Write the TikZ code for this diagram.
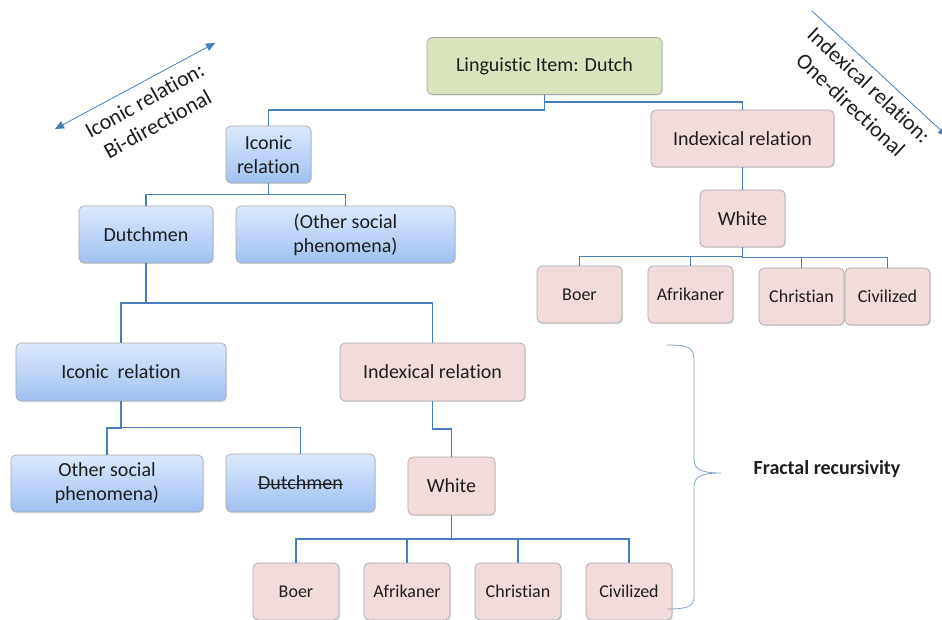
\documentclass[tikz,border=0pt]{standalone}
\usepackage{fontspec}
\setmainfont{Carlito}[Ligatures={NoCommon}]
\usetikzlibrary{calc,shadows,arrows.meta}

% struck-through word: a thin rule laid over the word at mid x-height
\newcommand{\strikeword}[1]{\leavevmode\setbox0\hbox{#1}%
  \rlap{\rule[0.24em]{\wd0}{0.055em}}\box0}

\definecolor{linkblue}{HTML}{4A7EBB}
\definecolor{bracecol}{HTML}{7F9FCF}
\definecolor{boxline}{HTML}{A8A8A8}
\definecolor{pinkfill}{HTML}{F2DCDB}
\definecolor{greenfill}{HTML}{D7E4BD}
\definecolor{bluetop}{HTML}{DCE8FC}
\definecolor{bluebot}{HTML}{A0C1F3}
\definecolor{ink}{HTML}{1E1E1E}

\tikzset{
  box/.style={rectangle, rounded corners=5pt, draw=boxline, line width=0.7pt,
    align=center, inner sep=2pt, text=ink, font=\fontsize{20}{24}\selectfont,
    drop shadow={shadow xshift=1pt, shadow yshift=-1.2pt, opacity=0.22}},
  pinkbox/.style={box, fill=pinkfill},
  greenbox/.style={box, fill=greenfill},
  bluebox/.style={box, top color=bluetop, bottom color=bluebot},
  leaf/.style={pinkbox, font=\fontsize{18}{22}\selectfont},
  link/.style={draw=linkblue, line width=1.6pt},
  elbow/.style={to path={(\tikztostart.south)
      |- ($(\tikztostart.south)!0.5!(\tikztotarget.north)$)
      -| (\tikztotarget.north)}},
  relarrow/.style={draw=linkblue, line width=0.8pt},
  tipA/.tip={Triangle[length=9pt,width=8pt]},
  rellabel/.style={text=ink, align=center, font=\fontsize{22}{27}\selectfont},
  brace/.style={draw=bracecol, line width=0.8pt},
}

\begin{document}
\begin{tikzpicture}[x=1pt,y=-1pt]
\useasboundingbox (0,0) rectangle (942,619);

% root
\node[greenbox, minimum width=235pt, minimum height=57pt] (ling) at (544.5,66) {Linguistic Item: Dutch};

% right branch: indexical relation
\node[pinkbox, minimum width=183pt, minimum height=57pt] (idxA) at (742.5,138.5) {Indexical relation};
\node[pinkbox, minimum width=85pt, minimum height=57pt] (whiteA) at (742.5,218.5) {White};
\node[leaf, minimum width=85pt, minimum height=57pt] (boerA) at (579.5,294.5) {Boer};
\node[leaf, minimum width=85pt, minimum height=57pt] (afrA) at (690.5,294.5) {Afrikaner};
\node[leaf, minimum width=85pt, minimum height=57pt] (chrA) at (801.5,296.5) {Christian};
\node[leaf, minimum width=85pt, minimum height=57pt] (civA) at (887.5,296.5) {Civilized};

% left branch: iconic relation
\node[bluebox, minimum width=85pt, minimum height=57pt] (iconA) at (268.5,154.5) {Iconic\\relation};
\node[bluebox, minimum width=134pt, minimum height=57pt] (dutchA) at (146,234.5) {Dutchmen};
\node[bluebox, minimum width=219pt, minimum height=57pt] (otherA) at (345.5,234.5) {(Other social\\phenomena)};

% second level below Dutchmen
\node[bluebox, minimum width=210pt, minimum height=58pt] (iconB) at (121,372) {Iconic\ \ relation};
\node[pinkbox, minimum width=185pt, minimum height=58pt] (idxB) at (432.5,372) {Indexical relation};
\node[bluebox, minimum width=192pt, minimum height=57pt] (otherB) at (107,483.5) {Other social\\phenomena)};
\node[bluebox, minimum width=149pt, minimum height=58pt] (dutchB) at (300.5,483) {\strikeword{Dutchmen}};
\node[pinkbox, minimum width=87pt, minimum height=58pt] (whiteB) at (451.5,486) {White};
\node[leaf, minimum width=86pt, minimum height=57pt] (boerB) at (296,591.5) {Boer};
\node[leaf, minimum width=86pt, minimum height=57pt] (afrB) at (407,591.5) {Afrikaner};
\node[leaf, minimum width=86pt, minimum height=57pt] (chrB) at (518,591.5) {Christian};
\node[leaf, minimum width=86pt, minimum height=57pt] (civB) at (629,591.5) {Civilized};

% tree connectors
\foreach \p/\c in {ling/iconA, ling/idxA, idxA/whiteA,
    whiteA/boerA, whiteA/afrA, whiteA/chrA, whiteA/civA,
    iconA/dutchA, iconA/otherA, dutchA/iconB, dutchA/idxB,
    iconB/otherB, iconB/dutchB, idxB/whiteB,
    whiteB/boerB, whiteB/afrB, whiteB/chrB, whiteB/civB}
  \draw[link] (\p) to[elbow] (\c);

% relation arrows with their labels
\coordinate (icoS) at (55,129);
\coordinate (icoE) at (215,43);
\draw[relarrow, tipA-tipA] (icoS) -- (icoE);
\node[rellabel, rotate=29] (icoLbl) at (151,112) {Iconic relation:\\Bi-directional};

\coordinate (idxS) at (812,11);
\coordinate (idxE) at (947,136);
\draw[relarrow, -tipA] (idxS) -- (idxE);
\node[rellabel, rotate=-43] (idxLbl) at (860,95) {Indexical relation:\\One-directional};

% brace around the lower tree
\draw[brace] (667,345) .. controls (688,345) and (694,347) .. (694,360)
  -- (694,459) .. controls (694,469) and (700,473) .. (721,473)
  .. controls (700,473) and (694,477) .. (694,487)
  -- (694,597) .. controls (694,607) and (686,609) .. (667,609);
\node[text=ink, font=\bfseries\fontsize{20}{24}\selectfont] (fractal) at (827,469) {Fractal recursivity};
\end{tikzpicture}
\end{document}
